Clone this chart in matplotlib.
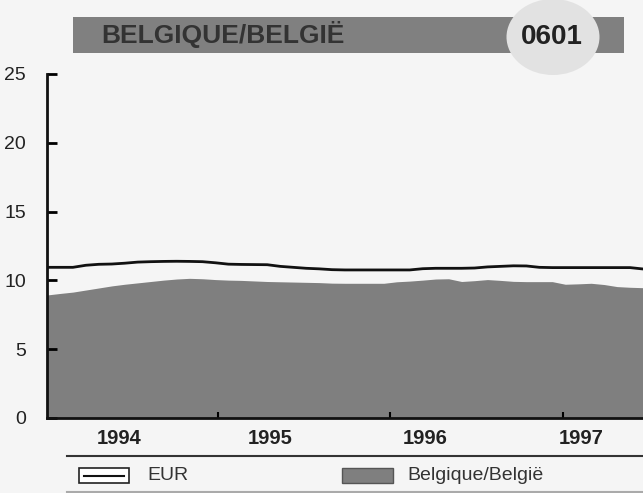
import matplotlib.pyplot as plt
from matplotlib.patches import Rectangle, Ellipse
from matplotlib.lines import Line2D

plt.rcParams['font.family'] = ['Liberation Sans', 'DejaVu Sans']

# monthly values, Jan 1994 .. Nov 1997
months = list(range(47))
eur = [10.95, 10.95, 10.95, 11.10, 11.17, 11.19, 11.25, 11.33, 11.36, 11.38,
       11.39, 11.38, 11.36, 11.28, 11.18, 11.16, 11.15, 11.14, 11.02, 10.95,
       10.88, 10.84, 10.78, 10.76, 10.76, 10.76, 10.76, 10.76, 10.76, 10.85,
       10.88, 10.88, 10.88, 10.90, 10.98, 11.02, 11.06, 11.05, 10.95, 10.93,
       10.93, 10.93, 10.93, 10.93, 10.93, 10.93, 10.83]
belgique = [8.94, 9.05, 9.15, 9.30, 9.45, 9.60, 9.72, 9.82, 9.92, 10.02,
            10.10, 10.15, 10.12, 10.06, 10.02, 10.00, 9.96, 9.92, 9.90, 9.88,
            9.86, 9.84, 9.80, 9.79, 9.79, 9.79, 9.79, 9.90, 9.95, 10.02,
            10.10, 10.12, 9.92, 9.98, 10.06, 10.00, 9.93, 9.91, 9.91, 9.91,
            9.72, 9.75, 9.79, 9.70, 9.55, 9.50, 9.47]
years = ['1994', '1995', '1996', '1997']
year_pos = [5.6, 17.2, 29.2, 41.2]
minor_pos = [13.2, 26.5, 39.8]
yticks = [0, 5, 10, 15, 20, 25]

bg = '#f5f5f5'
grey = '#7f7f7f'

fig = plt.figure(figsize=(6.43, 4.93), dpi=100, facecolor=bg)
ax = fig.add_axes([47 / 643, 75 / 493, 596 / 643, 344 / 493])
ax.set_facecolor(bg)

ax.fill_between(months, 0, belgique, color=grey, linewidth=0)
ax.plot(months, eur, color='#111111', linewidth=2)

ax.set_xlim(0, 46)
ax.set_ylim(0, 25)
ax.set_yticks(yticks)
ax.set_yticklabels([str(v) for v in yticks], fontsize=14, color='#222222')
ax.set_xticks(year_pos)
ax.set_xticklabels(years, fontsize=14.5, fontweight='bold', color='#222222')
ax.set_xticks(minor_pos, minor=True)
ax.tick_params(axis='y', direction='in', length=7, width=2, pad=15)
ax.tick_params(axis='x', which='major', length=0, pad=8)
ax.tick_params(axis='x', which='minor', direction='in', length=4, width=1.5)
for s in ['top', 'right']:
    ax.spines[s].set_visible(False)
for s in ['left', 'bottom']:
    ax.spines[s].set_linewidth(2)
    ax.spines[s].set_color('#111111')

# pixel helpers for the header and legend
W, H = 643, 493
def fx(x):
    return x / W
def fy(y):
    return 1 - y / H

# header bar
fig.patches.append(Rectangle((fx(73), fy(53)), fx(624) - fx(73), fy(17) - fy(53),
                             transform=fig.transFigure, facecolor='#808080',
                             edgecolor='none'))
fig.patches.append(Ellipse((fx(553), fy(37)), 93 / W, 76 / H,
                           transform=fig.transFigure,
                           facecolor='#e2e2e2', edgecolor='none'))
fig.text(fx(101), fy(35), 'BELGIQUE/BELGIË', fontsize=19, fontweight='bold',
         color='#333333', va='center', ha='left')
fig.text(fx(552), fy(37), '0601', fontsize=20, fontweight='bold',
         color='#222222', va='center', ha='center')

# legend
fig.add_artist(Line2D([fx(67), fx(643)], [fy(456), fy(456)], color='#333333',
                      linewidth=1.5, transform=fig.transFigure))
fig.add_artist(Line2D([fx(67), fx(643)], [fy(492), fy(492)], color='#aaaaaa',
                      linewidth=1.5, transform=fig.transFigure))
fig.patches.append(Rectangle((fx(79), fy(483)), 50 / W, 15 / H,
                             transform=fig.transFigure, facecolor='white',
                             edgecolor='#222222', linewidth=1.2))
fig.add_artist(Line2D([fx(84), fx(124)], [fy(475.5), fy(475.5)], color='#111111',
                      linewidth=1.5, transform=fig.transFigure))
fig.text(fx(147), fy(475), 'EUR', fontsize=14, color='#333333', va='center')
fig.patches.append(Rectangle((fx(342), fy(483)), 51 / W, 15 / H,
                             transform=fig.transFigure, facecolor=grey,
                             edgecolor='#555555', linewidth=1))
fig.text(fx(407), fy(475), 'Belgique/België', fontsize=14, color='#333333',
         va='center')

plt.savefig('out.png', dpi=100, facecolor=bg)
